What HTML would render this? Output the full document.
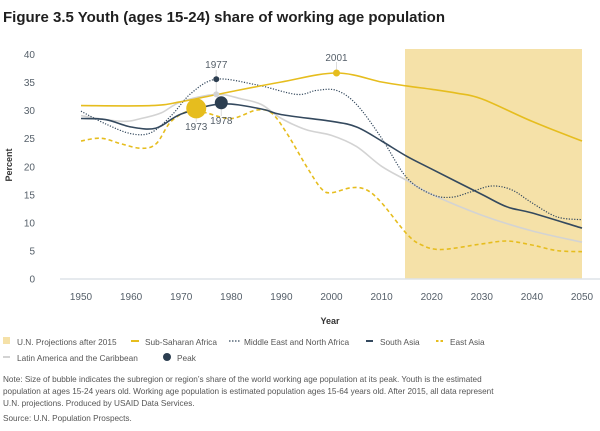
<!DOCTYPE html>
<html><head><meta charset="utf-8"><style>
body{margin:0;background:#fff;font-family:"Liberation Sans",sans-serif;}
svg text{font-family:"Liberation Sans",sans-serif;}
</style></head><body>
<svg id="s" width="600" height="426" xmlns="http://www.w3.org/2000/svg">
<text x="3" y="22" font-size="14.6" font-weight="bold" fill="#1f1f1f" textLength="442" lengthAdjust="spacingAndGlyphs">Figure 3.5 Youth (ages 15-24) share of working age population</text>
<rect x="405" y="49" width="177" height="230" fill="#f5e1a8"/>
<line x1="60" y1="279" x2="600" y2="279" stroke="#dde3e8" stroke-width="1.5"/>
<g id="yt" font-size="10" fill="#555f69" text-anchor="end"></g>
<g id="xt" font-size="10" fill="#555f69" text-anchor="middle"></g>
<text transform="translate(12,165) rotate(-90)" font-size="9" font-weight="bold" fill="#333" text-anchor="middle">Percent</text>
<text x="330" y="324" font-size="9" font-weight="bold" fill="#333" text-anchor="middle">Year</text>
<g id="lines" fill="none" stroke-linejoin="round" stroke-linecap="butt"></g>
<g id="pk"></g>
<g font-size="8.3" fill="#555">
<rect x="3" y="337" width="7" height="7" fill="#f5e1a8"/><text x="17" y="345">U.N. Projections after 2015</text>
<line x1="131" y1="341" x2="139" y2="341" stroke="#e6bd1e" stroke-width="2"/><text x="145" y="345">Sub-Saharan Africa</text>
<line x1="229" y1="341" x2="241" y2="341" stroke="#34495e" stroke-width="1.2" stroke-dasharray="1.5,1.5"/><text x="244" y="345">Middle East and North Africa</text>
<line x1="366" y1="341" x2="373" y2="341" stroke="#34495e" stroke-width="2"/><text x="380" y="345">South Asia</text>
<line x1="436" y1="341" x2="443" y2="341" stroke="#e6bd1e" stroke-width="2" stroke-dasharray="2.5,2"/><text x="450" y="345">East Asia</text>
<line x1="3" y1="357" x2="10" y2="357" stroke="#d3d3d3" stroke-width="2"/><text x="17" y="361">Latin America and the Caribbean</text>
<circle cx="167" cy="357" r="4" fill="#2c3e50"/><text x="177" y="361">Peak</text>
<text x="3" y="382" font-size="8.2">Note: Size of bubble indicates the subregion or region’s share of the world working age population at its peak. Youth is the estimated</text>
<text x="3" y="394" font-size="8.2">population at ages 15-24 years old. Working age population is estimated population ages 15-64 years old. After 2015, all data represent</text>
<text x="3" y="406" font-size="8.2">U.N. projections. Produced by USAID Data Services.</text>
<text x="3" y="421" font-size="8.2">Source: U.N. Population Prospects.</text>
</g>
</svg>
<script>
const X=y=>81+(y-1950)*5.01, Y=v=>278.7-v*5.62, NS="http://www.w3.org/2000/svg";
const el=(p,t,a,txt)=>{const e=document.createElementNS(NS,t);for(const k in a)e.setAttribute(k,a[k]);if(txt!=null)e.textContent=txt;document.getElementById(p).appendChild(e);return e;};
for(let v=0;v<=40;v+=5)el('yt','text',{x:35,y:Y(v)+4},v);
for(let y=1950;y<=2050;y+=10)el('xt','text',{x:X(y),y:300},y);
function path(pts){const P=[];for(let i=0;i<pts.length;i+=2)P.push([X(pts[i]),Y(pts[i+1])]);
let d="M"+P[0][0].toFixed(1)+","+P[0][1].toFixed(1);
for(let i=0;i<P.length-1;i++){const p0=P[i-1]||P[i],p1=P[i],p2=P[i+1],p3=P[i+2]||p2;
const c1=[p1[0]+(p2[0]-p0[0])/6,p1[1]+(p2[1]-p0[1])/6],c2=[p2[0]-(p3[0]-p1[0])/6,p2[1]-(p3[1]-p1[1])/6];
d+=`C${c1[0].toFixed(1)},${c1[1].toFixed(1)} ${c2[0].toFixed(1)},${c2[1].toFixed(1)} ${p2[0].toFixed(1)},${p2[1].toFixed(1)}`;}return d;}
const L=[
["#d3d3d3",1.6,"",[1950,29,1958,28,1962,28.5,1966,29.5,1970,31.5,1977,32.8,1982,32,1986,31,1990,28.5,1995,26.5,2000,25.5,2005,23.5,2010,20,2015,17.5,2020,15,2030,11.3,2040,8.5,2050,6.5]],
["#e6bd1e",1.6,"4,3",[1950,24.5,1954,25,1958,24,1962,23.2,1965,24,1968,28,1972,30,1975,29.5,1980,28.5,1985,30,1988,29.5,1991,26,1995,20,1998,16,2000,15.3,2004,16.2,2007,15.8,2010,13.5,2015,8,2018,6,2022,5.2,2030,6.2,2035,6.7,2040,6,2045,5,2050,4.8]],
["#34495e",1.2,"1.2,1.5",[1950,29.8,1955,27.5,1960,25.8,1964,26,1968,29,1972,33,1977,35.5,1985,34.5,1993,32.8,1997,33.5,2001,33.5,2005,31,2010,25,2015,18,2020,15,2024,14.5,2028,15.5,2032,16.5,2036,15.8,2040,13.5,2045,11,2050,10.5]],
["#34495e",1.6,"",[1950,28.5,1955,28.3,1960,27,1965,26.8,1970,29.3,1978,31.1,1986,30.2,1990,29.2,2000,28,2005,27,2010,24.5,2015,21.8,2020,19.5,2030,15,2035,12.8,2040,11.7,2050,9]],
["#e6bd1e",1.6,"",[1950,30.8,1964,30.8,1970,31.5,1980,33.3,1990,35,2001,36.6,2010,35,2015,34.3,2020,33.7,2025,33,2030,32,2040,28,2050,24.5]]];
L.forEach(l=>el('lines','path',{d:path(l[3]),stroke:l[0],"stroke-width":l[1],"stroke-dasharray":l[2]}));
const stems=[[1977,32.8,70],[1977,35.5,70],[2001,36.6,62],[1973,30.3,122],[1978,31.3,116]];
stems.forEach(s=>el('pk','line',{x1:X(s[0]),x2:X(s[0]),y1:Y(s[1]),y2:s[2],stroke:"#ddd","stroke-width":1}));
[[1977,32.8,3,"#d3d3d3"],[1973,30.3,10,"#e6bd1e"],[1978,31.3,6.5,"#2c3e50"],[1977,35.5,3,"#2c3e50"],[2001,36.6,3.5,"#e6bd1e"]].forEach(p=>{
el('pk','circle',{cx:X(p[0]),cy:Y(p[1]),r:p[2],fill:p[3]});});
[[1977,68],[2001,61],[1973,130],[1978,124]].forEach(t=>el('pk','text',{x:X(t[0]),y:t[1],"font-size":"10",fill:"#555f69","text-anchor":"middle"},t[0]));
</script>
</body></html>
